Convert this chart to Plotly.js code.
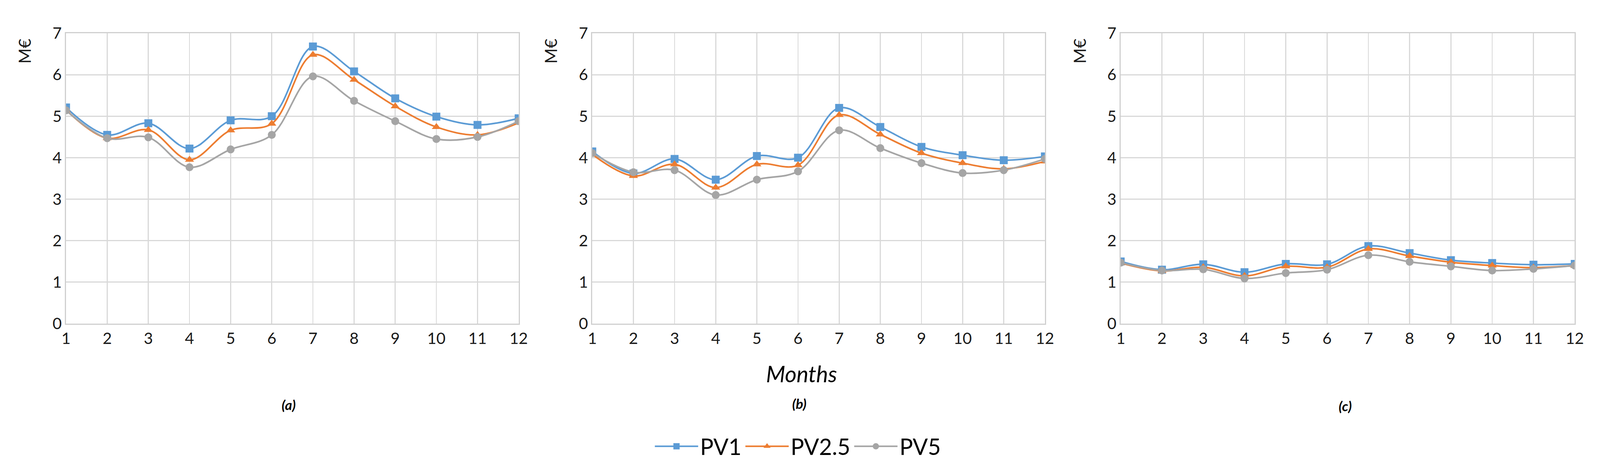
<!DOCTYPE html>
<html>
<head>
<meta charset="utf-8">
<script src="https://cdn.plot.ly/plotly-3.0.1.min.js"></script>
<style>html,body{margin:0;padding:0;background:#fff;overflow:hidden;}#chart{position:absolute;left:0;top:0;}</style>
</head>
<body>
<div id="chart"></div>
<script>
// Data (M€ per month)
const months = [1,2,3,4,5,6,7,8,9,10,11,12];
const seriesNames = ["PV1", "PV2.5", "PV5"];

const a_PV1  = [5.21, 4.55, 4.83, 4.22, 4.90, 5.00, 6.68, 6.08, 5.43, 4.99, 4.79, 4.95];
const a_PV25 = [5.15, 4.47, 4.67, 3.95, 4.66, 4.82, 6.48, 5.88, 5.24, 4.74, 4.55, 4.84];
const a_PV5  = [5.14, 4.47, 4.49, 3.77, 4.20, 4.55, 5.96, 5.37, 4.88, 4.45, 4.50, 4.88];

const b_PV1  = [4.15, 3.62, 3.97, 3.47, 4.04, 4.00, 5.20, 4.74, 4.26, 4.06, 3.94, 4.03];
const b_PV25 = [4.08, 3.56, 3.84, 3.28, 3.84, 3.82, 5.03, 4.56, 4.11, 3.87, 3.73, 3.91];
const b_PV5  = [4.11, 3.65, 3.70, 3.10, 3.47, 3.67, 4.66, 4.23, 3.87, 3.63, 3.70, 3.97];

const c_PV1  = [1.50, 1.30, 1.43, 1.24, 1.44, 1.43, 1.87, 1.70, 1.53, 1.46, 1.42, 1.44];
const c_PV25 = [1.46, 1.27, 1.36, 1.15, 1.38, 1.36, 1.80, 1.63, 1.48, 1.40, 1.35, 1.40];
const c_PV5  = [1.47, 1.28, 1.31, 1.09, 1.22, 1.30, 1.65, 1.49, 1.38, 1.28, 1.32, 1.40];

const panelLabels = ["(a)", "(b)", "(c)"];
const yTitle = "M€";
const xTitle = "Months";

const colors = ["#5B9BD5", "#ED7D31", "#A5A5A5"];
const symbols = ["square", "triangle-up", "circle"];

// Reference frame is 4433 x 1205; scale to actual viewport
const RW = 4433, RH = 1205;
const W = window.innerWidth || RW;
const H = window.innerHeight || RH;
const k = W / RW;
const chartDiv = document.getElementById("chart");
chartDiv.style.width = W + "px";
chartDiv.style.height = H + "px";

const panels = [[a_PV1, a_PV25, a_PV5], [b_PV1, b_PV25, b_PV5], [c_PV1, c_PV25, c_PV5]];
const axisIds = [["x","y"],["x2","y2"],["x3","y3"]];

const traces = [];
panels.forEach((set, p) => {
  set.forEach((vals, s) => {
    traces.push({
      type: "scatter", mode: "lines+markers",
      x: months, y: vals, name: seriesNames[s],
      xaxis: axisIds[p][0], yaxis: axisIds[p][1],
      legendgroup: seriesNames[s], showlegend: p === 0,
      line: {color: colors[s], width: 4.5 * k, shape: "spline", smoothing: 1},
      marker: {color: colors[s], symbol: symbols[s], size: 22 * k}
    });
  });
});

const xDomains = [[183/RW, 1437/RW], [1641/RW, 2895/RW], [3105/RW, 4363/RW]];
const yDomain = [1 - 828/RH, 1 - 85/RH];
const FONT = "Lato, 'Open Sans', sans-serif";
const tickFont = {family: FONT, size: 44 * k, color: "#1a1a1a"};

function xa(i){
  return {domain: xDomains[i], anchor: axisIds[i][1], range: [1, 12],
    tickmode: "array", tickvals: months, ticktext: months.map(String),
    showgrid: true, gridcolor: "#d9d9d9", gridwidth: 3 * k,
    showline: true, linecolor: "#d0d0d0", linewidth: 3 * k, mirror: true,
    zeroline: false, ticks: "", tickfont: tickFont, ticklabelstandoff: 40 * k, fixedrange: true};
}
function ya(i){
  return {domain: yDomain, anchor: axisIds[i][0], range: [0, 7], dtick: 1, tick0: 0,
    showgrid: true, gridcolor: "#d9d9d9", gridwidth: 3 * k,
    showline: true, linecolor: "#d0d0d0", linewidth: 3 * k, mirror: true,
    zeroline: false, ticks: "", tickfont: tickFont, ticklabelstandoff: 38 * k, fixedrange: true};
}

const annotations = [];
const yTitleX = [67, 1525, 2990];
yTitleX.forEach(px => annotations.push({
  xref: "paper", yref: "paper", x: px/RW, y: 1 - 131/RH, xanchor: "center", yanchor: "middle",
  text: yTitle, textangle: -90, showarrow: false,
  font: {family: FONT, size: 46 * k, color: "#1a1a1a"}
}));
annotations.push({
  xref: "paper", yref: "paper", x: 2221/RW, y: 1 - 955/RH, xanchor: "center", yanchor: "middle",
  text: "<i>" + xTitle + "</i>", showarrow: false,
  font: {family: FONT, size: 62 * k, color: "#000"}
});
const labX = [800, 2215, 3727], labY = [1035, 1032, 1038];
panelLabels.forEach((t, i) => annotations.push({
  xref: "paper", yref: "paper", x: labX[i]/RW, y: 1 - labY[i]/RH, xanchor: "center", yanchor: "middle",
  text: "<b><i>" + t + "</i></b>", showarrow: false,
  font: {family: FONT, size: 38 * k, color: "#000"}
}));

const layout = {
  width: W, height: H,
  margin: {l: 0, r: 0, t: 0, b: 0},
  paper_bgcolor: "#fff", plot_bgcolor: "#fff",
  showlegend: true,
  legend: {orientation: "h", x: 2211/RW, xanchor: "center", y: 1 - 1142/RH, yanchor: "middle",
    font: {family: FONT, size: 62 * k, color: "#000"},
    itemwidth: Math.max(30, 120 * k), tracegroupgap: 0, bgcolor: "rgba(0,0,0,0)"},
  xaxis: xa(0), yaxis: ya(0),
  xaxis2: xa(1), yaxis2: ya(1),
  xaxis3: xa(2), yaxis3: ya(2),
  annotations: annotations
};

Plotly.newPlot("chart", traces, layout, {staticPlot: true, displayModeBar: false});
</script>
</body>
</html>
